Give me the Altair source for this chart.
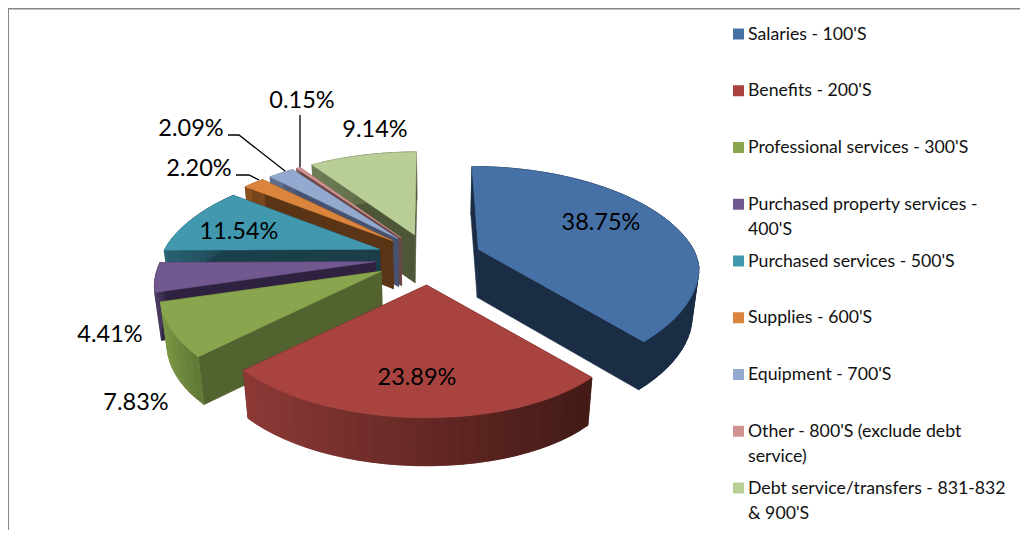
import math
import altair as alt
import numpy as np
import pandas as pd

categories = ["Salaries - 100'S", "Benefits - 200'S", "Professional services - 300'S",
              "Purchased property services - 400'S", "Purchased services - 500'S",
              "Supplies - 600'S", "Equipment - 700'S", "Other - 800'S (exclude debt service)",
              "Debt service/transfers - 831-832 & 900'S"]
values = [38.75, 23.89, 7.83, 4.41, 11.54, 2.20, 2.09, 0.15, 9.14]
legend_lines = [["Salaries - 100'S"], ["Benefits - 200'S"], ["Professional services - 300'S"],
                ["Purchased property services -", "400'S"], ["Purchased services - 500'S"],
                ["Supplies - 600'S"], ["Equipment - 700'S"],
                ["Other - 800'S (exclude debt", "service)"],
                ["Debt service/transfers - 831-832", "& 900'S"]]
top_colors = ["#4571A7", "#A84340", "#89A54E", "#71588F", "#4198AF", "#DB843D", "#93A9CF", "#D19392", "#B9CD96"]
radial_colors = ["#1A2D45", "#3F1A16", "#526330", "#2E2240", "#1A3E4A", "#5A3414", "#475270", "#6B4645", "#4E5638"]
arc_left = ["#1A2D45", "#8E3A37", "#7C9845", "#4A3A60", "#2A6272", "#8A5020", "#5E6E8C", "#85605F", "#6E7D55"]
arc_right = ["#1A2D45", "#431A16", "#617A36", "#2E2240", "#1A3E4A", "#5A3414", "#475270", "#6B4645", "#4E5638"]
label_text = ["38.75%", "23.89%", "7.83%", "4.41%", "11.54%", "2.20%", "2.09%", "0.15%", "9.14%"]
label_x = [601, 417, 136, 110, 239, 199, 191, 302, 375]
label_y = [223, 378, 403, 335, 232, 169, 129, 101, 130]
leaders = [[(228, 135), (239, 135), (285, 171)], [(236, 175), (249, 175), (259, 180)], [(300, 115), (300, 167)]]

CX, CY, RX, RY, K, EXPLODE, DEPTH, TAPER = 429, 258, 215, 102, 0.2315, 0.25, 48, 0.975
WARP_AT = [0, 60, 139.5, 200, 270, 311.1, 319.0315, 319.0325, 326.5555, 326.5565, 327.0955, 327.0965, 360]
WARP_BY = [0, 0, 1, 0, 0, 4, 7, 2.2, 4.3, 2, 2, 2.5, 0]
RIM_AT = [0, 100, 139.5, 180, 360]
RIM_BY = [1, 1, 0.96, 1, 1]


def blend(a, b, t):
    t = min(1, max(0, t))
    pa = [int(a[i:i + 2], 16) for i in (1, 3, 5)]
    pb = [int(b[i:i + 2], 16) for i in (1, 3, 5)]
    return "#%02x%02x%02x" % tuple(round(u + (v - u) * t) for u, v in zip(pa, pb))


def warp(theta):
    """Foreshortening of the rim, as the 3-D view draws it."""
    return theta - float(np.interp(theta, WARP_AT, WARP_BY))


def top_point(theta, mid, r=1.0):
    """Perspective projection of a point of the exploded pie's upper face."""
    m = math.radians(mid)
    t = math.radians(warp(theta))
    em = 1 / (1 + K * EXPLODE * math.cos(m))
    ex, ey = RX * EXPLODE * math.sin(m) * em, -RY * EXPLODE * math.cos(m) * em
    p = 1 / (1 + K * r * math.cos(t))
    shrink = min(1, 1 - (1 - p) * 0.7)
    rim = float(np.interp(theta, RIM_AT, RIM_BY))
    return CX + ex * shrink + RX * rim * r * math.sin(t) * p, CY + ey - RY * r * math.cos(t) * p


def low(pt):
    return CX + (pt[0] - CX) * TAPER, pt[1] + DEPTH


rows = []
pid = 0


def add_poly(points, color):
    global pid
    pid += 1
    for i, (x, y) in enumerate(points):
        rows.append({"x": x, "y": y, "part": f"p{pid:04d}", "i": i, "c": color})


starts = []
acc = 0.0
for v in values:
    starts.append(acc)
    acc += v
spans = [(s * 3.6 + 1e-4, (s + v) * 3.6 - 1e-4) for s, v in zip(starts, values)]

# painter's order: far slices first, the two front slices last
for idx in [8, 7, 6, 5, 4, 3, 2, 0, 1]:
    a0, a1 = spans[idx]
    mid = (a0 + a1) / 2
    apex = top_point(0, mid, 0)
    n = max(2, int((a1 - a0) / 3))
    angles = [a0 + (a1 - a0) * j / n for j in range(n + 1)]
    arc = [top_point(a, mid) for a in angles]
    for edge in (arc[0], arc[-1]):
        add_poly([apex, edge, low(edge), low(apex)], radial_colors[idx])
    xmin, xmax = min(p[0] for p in arc), max(p[0] for p in arc)
    for j in range(n):
        t = (arc[j][0] - xmin) / max(1, xmax - xmin)
        k = min(n, j + 2)  # strips overlap the next one so no seam shows
        strip = arc[j:k + 1]
        add_poly(strip + [low(q) for q in reversed(strip)], blend(arc_left[idx], arc_right[idx], t))
    add_poly([apex] + arc, top_colors[idx])

poly_df = pd.DataFrame(rows)

X = lambda f: alt.X(f, type="quantitative", scale=alt.Scale(domain=[8, 1020]), axis=None)
Y = lambda f: alt.Y(f, type="quantitative", scale=alt.Scale(domain=[530, 8]), axis=None)

pie = alt.Chart(poly_df).mark_line(strokeWidth=0.6, interpolate="linear-closed").encode(
    x=X("x"), y=Y("y"), detail="part:N", order="i:Q",
    fill=alt.Fill("c:N", scale=None), stroke=alt.Stroke("c:N", scale=None))

lead_df = pd.DataFrame([{"x": x, "y": y, "k": k, "i": i}
                        for k, pts in enumerate(leaders) for i, (x, y) in enumerate(pts)])
lead = alt.Chart(lead_df).mark_line(color="#000000", strokeWidth=1.3).encode(
    x=X("x"), y=Y("y"), detail="k:N", order="i:Q")

lab_df = pd.DataFrame({"x": label_x, "y": label_y, "t": label_text})
labels = alt.Chart(lab_df).mark_text(font="Lato", fontSize=23.5, color="#000000", align="center", baseline="middle").encode(
    x=X("x"), y=Y("y"), text="t:N")

ROW0, STEP, LINE = 34.5, 56.75, 25
sq_df = pd.DataFrame({"x": [738.5] * 9, "y": [34 + STEP * i for i in range(9)], "c": top_colors})
squares = alt.Chart(sq_df).mark_square(size=121, opacity=1).encode(
    x=X("x"), y=Y("y"), color=alt.Color("c:N", scale=None))

txt_df = pd.DataFrame([{"x": 748, "y": ROW0 + STEP * i + LINE * j, "t": t}
                       for i, lines in enumerate(legend_lines) for j, t in enumerate(lines)])
legend_text = alt.Chart(txt_df).mark_text(font="Lato", fontSize=17.7, color="#111111", align="left", baseline="middle").encode(
    x=X("x"), y=Y("y"), text="t:N")

border_df = pd.DataFrame({"x": [8, 8, 1020], "y": [530, 8.5, 8.5], "i": [0, 1, 2]})
border = alt.Chart(border_df).mark_line(color="#868686", strokeWidth=2).encode(
    x=X("x"), y=Y("y"), order="i:Q")

chart = alt.layer(border, pie, lead, labels, squares, legend_text).properties(
    width=1012, height=522, padding=0, autosize=alt.AutoSizeParams(type="none")
).configure_view(stroke=None)

chart.save("out.html", embed_options={"renderer": "svg", "actions": False})
